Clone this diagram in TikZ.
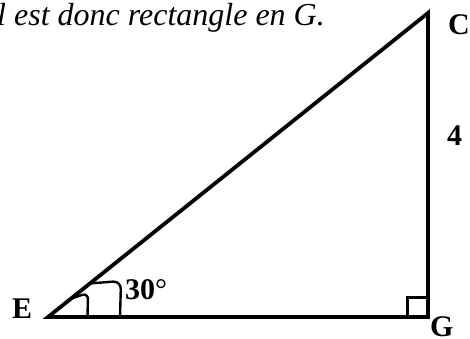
\documentclass[tikz,border=0pt]{standalone}
\usepackage{fontspec}
\setmainfont{Liberation Serif}
\begin{document}
\begin{tikzpicture}[x=1pt,y=-1pt,
  side/.style={line width=3.8pt,line join=miter},
  anglemark/.style={line width=2.4pt},
  lbl/.style={inner sep=0pt,anchor=base west,font=\fontsize{30}{30}\selectfont\bfseries}]
\useasboundingbox (0,0) rectangle (470,338);
\coordinate (E) at (48,317);
\coordinate (G) at (428,317);
\coordinate (C) at (428,13);
\draw[side] (E) -- (G) -- (C) -- cycle;
% right angle
\coordinate (s1) at (407,317);
\coordinate (s2) at (407,297);
\coordinate (s3) at (428,297);
\draw[line width=3pt] (s1) -- (s2) -- (s3);
% angle marks
\coordinate (a1) at (71,298.6);
\coordinate (a2) at (88,293);
\coordinate (a3) at (87.5,318);
\draw[anglemark,rounded corners=6pt] (a1) -- (a2) -- (a3);
\coordinate (b1) at (90,283.4);
\coordinate (b2) at (121,281);
\coordinate (b3) at (120,318);
\draw[anglemark,rounded corners=8pt] (b1) -- (b2) -- (b3);
% labels
\node[lbl] (tC) at (448,34) {C};
\node[lbl] (t4) at (447,145) {4};
\node[lbl] (tE) at (12,318) {E};
\node[lbl] (tG) at (430,336) {G};
\node[lbl] (t30) at (125,299) {30\textmd{°}};
\node[inner sep=0pt,anchor=base west,font=\fontsize{32}{32}\selectfont\itshape] (top) at (-3,25) {l est donc rectangle en G.};
\end{tikzpicture}
\end{document}
